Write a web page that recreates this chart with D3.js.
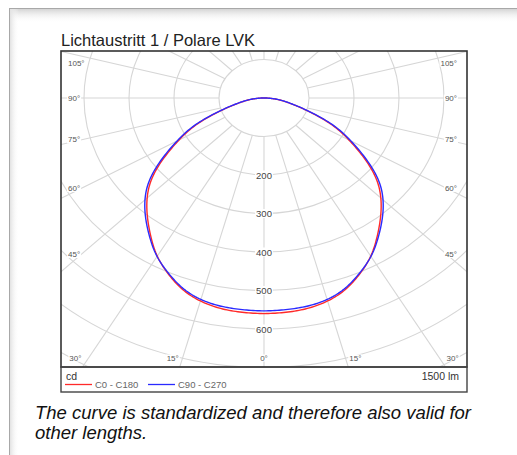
<!DOCTYPE html>
<html>
<head>
<meta charset="utf-8">
<script src="https://cdn.jsdelivr.net/npm/d3@7"></script>
<style>
  body { margin: 0; background: #fff; }
  svg { display: block; font-family: 'Liberation Sans', Arial, sans-serif; }
</style>
</head>
<body>
<div id="chart"></div>
<script>
// angles in degrees measured from nadir, candela values
const angles = [0, 5, 10, 15, 20, 25, 30, 35, 40, 45, 50, 55, 60, 65, 70, 75, 80, 85, 90];
const c0c180 = [560, 559, 556, 547, 531, 504, 476, 438, 403, 368, 328, 271, 216, 172, 108, 66, 42, 21, 0];
const c90c270 = [553, 552, 550, 543, 528, 502, 477, 442, 409, 375, 335, 277, 221, 176, 111, 68, 43, 22, 0];
const seriesNames = ['C0 - C180', 'C90 - C270'];
const seriesColors = ['#ff2a2a', '#2a2aff'];
const radialTicks = [200, 300, 400, 500, 600];
const gridRings = [100, 200, 300, 400, 500, 600, 700, 800, 900, 1000];
const angleTicks = [0, 15, 30, 45, 60, 75, 90, 105];
const title = 'Lichtaustritt 1 / Polare LVK';
const unitLabel = 'cd';
const fluxLabel = '1500 lm';
const caption = ['The curve is standardized and therefore also valid for', 'other lengths.'];

const W = 517, H = 455;
const box = { left: 61, top: 51, right: 467, bottom: 367 };
const cx = 264, cy = 98;

const svg = d3.select('#chart')
  .append('svg')
  .attr('width', W)
  .attr('height', H);

const defs = svg.append('defs');
const gTop = defs.append('linearGradient').attr('id', 'shTop').attr('x1', 0).attr('y1', 0).attr('x2', 0).attr('y2', 1);
gTop.append('stop').attr('offset', 0).attr('stop-color', '#d4d4d4');
gTop.append('stop').attr('offset', 1).attr('stop-color', '#fff').attr('stop-opacity', 0);
const gLeft = defs.append('linearGradient').attr('id', 'shLeft').attr('x1', 0).attr('y1', 0).attr('x2', 1).attr('y2', 0);
gLeft.append('stop').attr('offset', 0).attr('stop-color', '#e2e2e2');
gLeft.append('stop').attr('offset', 1).attr('stop-color', '#fff').attr('stop-opacity', 0);

defs.append('clipPath').attr('id', 'plotClip')
  .append('rect')
  .attr('x', box.left).attr('y', box.top)
  .attr('width', box.right - box.left).attr('height', box.bottom - box.top);

// outer panel
svg.append('rect')
  .attr('x', 9.5).attr('y', 8.5).attr('width', 540).attr('height', 480)
  .attr('fill', '#fff').attr('stroke', '#a8a8a8');
svg.append('rect')
  .attr('x', 10).attr('y', 9).attr('width', 540).attr('height', 14)
  .attr('fill', 'url(#shTop)');
svg.append('rect')
  .attr('x', 10).attr('y', 9).attr('width', 9).attr('height', 480)
  .attr('fill', 'url(#shLeft)');

svg.append('text')
  .attr('x', 61).attr('y', 46)
  .attr('font-size', 16.5)
  .attr('fill', '#222')
  .text(title);

const xR = d3.scaleLinear().domain([0, 100]).range([0, 45]);
const yR = d3.scaleLinear().domain([0, 100]).range([0, 38.5]);
const rad = (a) => a * Math.PI / 180;
const pt = (a, v) => [cx + xR(v) * Math.sin(rad(a)), cy + yR(v) * Math.cos(rad(a))];

const plot = svg.append('g').attr('clip-path', 'url(#plotClip)');

// grid rings
plot.append('g')
  .selectAll('ellipse')
  .data(gridRings)
  .enter()
  .append('ellipse')
    .attr('cx', cx).attr('cy', cy)
    .attr('rx', (d) => xR(d)).attr('ry', (d) => yR(d))
    .attr('fill', 'none')
    .attr('stroke', '#d6d6d6')
    .attr('stroke-width', 1.1);

// rays every 15 degrees
plot.append('g')
  .selectAll('line')
  .data(d3.range(0, 360, 15))
  .enter()
  .append('line')
    .attr('x1', (d) => pt(d, 100)[0]).attr('y1', (d) => pt(d, 100)[1])
    .attr('x2', (d) => pt(d, 2000)[0]).attr('y2', (d) => pt(d, 2000)[1])
    .attr('stroke', '#d6d6d6')
    .attr('stroke-width', 1.1);

function labelWithBg(g, x, y, txt, anchor, size, color) {
  const t = g.append('text')
    .attr('x', x).attr('y', y)
    .attr('text-anchor', anchor)
    .attr('dominant-baseline', 'central')
    .attr('font-size', size)
    .attr('fill', color)
    .text(txt);
  const b = t.node().getBBox();
  g.insert('rect', 'text:last-child')
    .attr('x', b.x - 1).attr('y', b.y + 1)
    .attr('width', b.width + 2).attr('height', b.height - 2)
    .attr('fill', '#fff');
}

// radial labels
const rl = plot.append('g');
radialTicks.forEach((v) => {
  const g = rl.append('g');
  labelWithBg(g, cx, cy + yR(v), String(v), 'middle', 9.5, '#444');
});

// angle labels
const al = plot.append('g');
angleTicks.forEach((a) => {
  [-1, 1].forEach((s) => {
    if (a === 0 && s < 0) return;
    const g = al.append('g');
    const dyBottom = box.bottom - cy;
    const vB = yR.invert(dyBottom / Math.cos(rad(a)));
    const pB = pt(a, vB);
    if (a <= 30) {
      const x = cx + s * (pB[0] - cx);
      labelWithBg(g, a === 0 ? cx : x + s * 1, box.bottom - 9, a + '°', a === 0 ? 'middle' : (s > 0 ? 'start' : 'end'), 8, '#555');
    } else {
      const vS = xR.invert(183 / Math.sin(rad(a)));
      let y = pt(a, vS)[1];
      y = Math.max(y, box.top + 12);
      if (s < 0) labelWithBg(g, box.left + 7, y, a + '°', 'start', 8, '#555');
      else labelWithBg(g, box.right - 10, y, a + '°', 'end', 8, '#555');
    }
  });
});

// curves: smooth the read values along the angle, then map to the plane
const line = d3.line();
[c0c180, c90c270].forEach((vals, i) => {
  const f = d3.interpolateBasis(vals);
  const maxA = angles[angles.length - 1];
  const pts = [];
  d3.range(-180, 181).forEach((k) => {
    const a = k / 2;
    pts.push(pt(a, f(Math.abs(a) / maxA)));
  });
  plot.append('path')
    .attr('d', line(pts))
    .attr('fill', 'none')
    .attr('stroke', seriesColors[i])
    .attr('stroke-width', 1.4);
});

// frames
svg.append('rect')
  .attr('x', box.left).attr('y', box.top)
  .attr('width', box.right - box.left).attr('height', box.bottom - box.top)
  .attr('fill', 'none').attr('stroke', '#333').attr('stroke-width', 1.6);
svg.append('rect')
  .attr('x', box.left).attr('y', box.bottom)
  .attr('width', box.right - box.left).attr('height', 25)
  .attr('fill', 'none').attr('stroke', '#444').attr('stroke-width', 1.4);

// legend
svg.append('text')
  .attr('x', 66).attr('y', 380)
  .attr('font-size', 10.5).attr('fill', '#333')
  .text(unitLabel);
svg.append('text')
  .attr('x', 459).attr('y', 380)
  .attr('text-anchor', 'end')
  .attr('font-size', 10.5).attr('fill', '#333')
  .text(fluxLabel);
const lg = svg.append('g')
  .selectAll('g')
  .data(seriesNames)
  .enter()
  .append('g')
    .attr('transform', (d, i) => `translate(${65 + i * 83},384.5)`);
lg.append('line')
  .attr('x1', 0).attr('x2', 27).attr('y1', 0).attr('y2', 0)
  .attr('stroke', (d, i) => seriesColors[i]).attr('stroke-width', 1.3);
lg.append('text')
  .attr('x', 30).attr('y', 0)
  .attr('dominant-baseline', 'central')
  .attr('font-size', 9.5).attr('fill', '#666')
  .text((d) => d);

// caption
svg.append('g')
  .selectAll('text')
  .data(caption)
  .enter()
  .append('text')
    .attr('x', 35).attr('y', (d, i) => 419 + i * 20)
    .attr('font-size', 18.5)
    .attr('font-style', 'italic')
    .attr('fill', '#111')
    .text((d) => d);
</script>
</body>
</html>
